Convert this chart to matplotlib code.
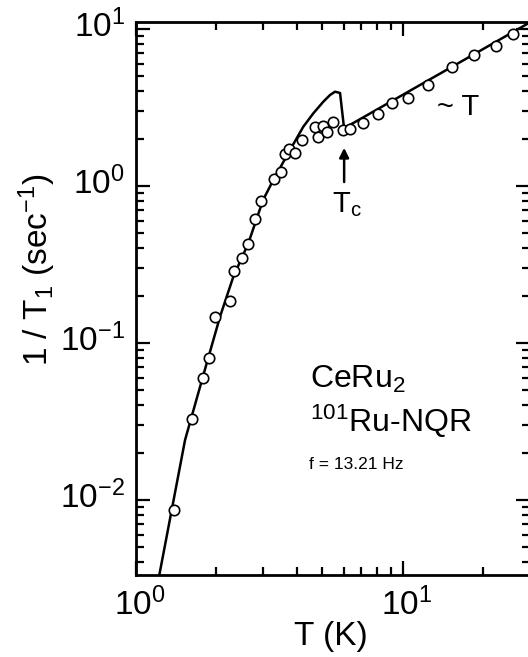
import numpy as np
import matplotlib
matplotlib.use("Agg")
import matplotlib.pyplot as plt
import matplotlib.transforms as mtransforms
from matplotlib.ticker import LogLocator, FixedLocator, FixedFormatter, NullFormatter

plt.rcParams['font.family'] = ['Liberation Sans', 'DejaVu Sans']
plt.rcParams['mathtext.fontset'] = 'custom'
plt.rcParams['mathtext.rm'] = 'Liberation Sans'
plt.rcParams['mathtext.it'] = 'Liberation Sans:italic'
plt.rcParams['mathtext.default'] = 'regular'

temp = [1.39, 1.615, 1.78, 1.87, 1.98, 2.25, 2.33, 2.49, 2.64, 2.79, 2.94,
        3.28, 3.50, 3.62, 3.76, 3.95, 4.18, 4.69, 4.83, 5.04, 5.19, 5.49,
        5.99, 6.35, 7.08, 8.06, 9.14, 10.44, 12.47, 15.3, 18.5, 22.4, 26.0]
rate = [0.0086, 0.033, 0.060, 0.080, 0.147, 0.184, 0.289, 0.349, 0.430,
        0.615, 0.808, 1.108, 1.233, 1.59, 1.71, 1.63, 1.96, 2.39, 2.06,
        2.41, 2.22, 2.55, 2.26, 2.32, 2.51, 2.88, 3.36, 3.65, 4.40, 5.73,
        6.78, 7.80, 9.36]

# calculated curve
curve_t = [1.223, 1.527, 1.841, 2.065, 2.317, 2.637, 2.994, 3.272, 3.779,
           4.239, 4.622, 5.038, 5.339, 5.574, 5.821, 6.026, 29.25]
curve_rate = [0.00333, 0.0241, 0.0743, 0.147, 0.2645, 0.4315, 0.814, 1.092,
              1.696, 2.386, 2.904, 3.443, 3.798, 3.987, 3.912, 2.331, 10.76]

yticks = [1e-2, 1e-1, 1e0, 1e1]
ytick_labels = [r'$10^{-2}$', r'$10^{-1}$', r'$10^{0}$', r'$10^{1}$']
xticks = [1, 10]
xtick_labels = [r'$10^{0}$', r'$10^{1}$']

fig = plt.figure(figsize=(5.28, 6.57), dpi=100)
ax = fig.add_axes([136/528, 82/657, 394/528, 553/657])

ax.plot(curve_t, curve_rate, color='black', lw=1.8, zorder=2)
ax.plot(temp, rate, 'o', ms=7.5, mfc='white', mec='black', mew=1.2, zorder=3)

ax.set_xscale('log')
ax.set_yscale('log')
ax.set_xlim(1, 30)
ax.set_ylim(3.33e-3, 11.08)

ax.xaxis.set_major_locator(FixedLocator(xticks))
ax.xaxis.set_major_formatter(FixedFormatter(xtick_labels))
ax.yaxis.set_major_locator(FixedLocator(yticks))
ax.yaxis.set_major_formatter(FixedFormatter(ytick_labels))
for a in (ax.xaxis, ax.yaxis):
    a.set_minor_locator(LogLocator(base=10, subs=np.arange(2, 10)))
    a.set_minor_formatter(NullFormatter())

ax.tick_params(which='both', direction='in', top=True, right=True, width=1.6,
               labelsize=24)
ax.tick_params(which='major', length=10)
ax.tick_params(which='minor', length=6)
ax.tick_params(axis='y', pad=8)
ax.tick_params(axis='x', pad=9)
for s in ax.spines.values():
    s.set_linewidth(2)

# nudge the tick labels like in the original print
up = mtransforms.ScaledTranslation(0, 6/100, fig.dpi_scale_trans)
for lab in ax.get_yticklabels():
    lab.set_transform(lab.get_transform() + up)
right = mtransforms.ScaledTranslation(4/100, 0, fig.dpi_scale_trans)
for lab in ax.get_xticklabels():
    lab.set_transform(lab.get_transform() + right)

fig.text(37/528, 1 - 270/657, r'1 / T$_1$ (sec$^{-1}$)', rotation=90,
         ha='center', va='center', fontsize=24)
fig.text(331/528, 1 - 637/657, 'T (K)', ha='center', va='center', fontsize=24)

ax.text(4.49, 0.0517, r'CeRu$_2$', fontsize=23, ha='left', va='baseline')
ax.text(4.49, 0.0272, r'$^{101}$Ru-NQR', fontsize=23, ha='left', va='baseline')
ax.text(4.45, 0.01576, 'f = 13.21 Hz', fontsize=12.5, ha='left', va='baseline')
ax.text(13.41, 2.833, '~ T', fontsize=21, ha='left', va='baseline')
ax.text(6.18, 0.686, r'T$_c$', fontsize=21, ha='center', va='baseline')
ax.annotate('', xy=(6.03, 1.75), xytext=(6.03, 1.06),
            arrowprops=dict(arrowstyle='-|>', color='black', lw=1.8,
                            mutation_scale=14, shrinkA=0, shrinkB=0))

fig.savefig('out.png', dpi=100)
